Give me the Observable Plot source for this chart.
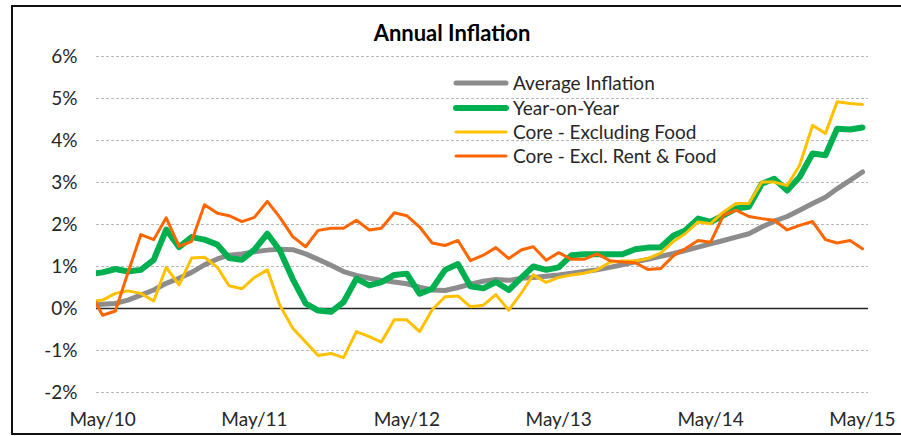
<!DOCTYPE html>
<html><head><meta charset="utf-8">
<script src="https://cdn.jsdelivr.net/npm/d3@7"></script>
<script src="https://cdn.jsdelivr.net/npm/@observablehq/plot@0.6"></script>
<style>
html,body{margin:0;padding:0;background:#fff;font-family:Lato,"Liberation Sans",sans-serif;overflow:hidden;}
#wrap{position:relative;width:901px;height:436px;overflow:hidden;background:#fff;}
#frame{position:absolute;left:11px;top:5px;width:900px;height:430px;border:2px solid #111;border-right:none;box-sizing:border-box;pointer-events:none;}
#title{position:absolute;left:0;top:20px;width:904px;height:26px;line-height:26px;text-align:center;font-weight:bold;font-size:22px;color:#000;}
#chart{position:absolute;left:0;top:46px;}
</style>
</head><body>
<div id="wrap">
  <div id="title">Annual Inflation</div>
  <div id="chart"></div>
  <div id="frame"></div>
</div>
<script>
// Monthly observations, Apr/10 (partly clipped at the axis edge) through May/15
const firstMonth = Date.UTC(2010, 3, 1);
const lastMonthExclusive = Date.UTC(2015, 5, 1);

const seriesNames = ["Average Inflation", "Year-on-Year", "Core - Excluding Food", "Core - Excl. Rent & Food"];
const seriesColors = ["#8c8c8c", "#00b050", "#ffc000", "#ff6600"];

const averageInflation = [0.08,
  0.10,0.12,0.20,0.32,0.44,0.60,0.72,0.86,1.04,1.18,1.27,1.30,
  1.35,1.39,1.41,1.40,1.30,1.17,1.03,0.88,0.79,0.72,0.67,0.63,
  0.59,0.51,0.44,0.43,0.50,0.58,0.65,0.69,0.67,0.72,0.74,0.77,
  0.80,0.84,0.88,0.92,0.98,1.04,1.11,1.17,1.24,1.31,1.38,1.46,
  1.54,1.62,1.70,1.78,1.94,2.08,2.19,2.34,2.50,2.65,2.85,3.05,
  3.25];
const yearOnYear = [0.82,
  0.86,0.94,0.88,0.92,1.16,1.88,1.46,1.70,1.64,1.52,1.20,1.16,
  1.40,1.78,1.38,0.70,0.12,-0.05,-0.08,0.15,0.71,0.55,0.63,0.80,
  0.83,0.35,0.47,0.92,1.06,0.53,0.48,0.63,0.44,0.74,1.00,0.92,
  0.98,1.27,1.29,1.29,1.29,1.29,1.41,1.45,1.46,1.74,1.86,2.14,
  2.06,2.22,2.38,2.42,2.97,3.09,2.81,3.13,3.69,3.65,4.28,4.26,
  4.31];
const coreExFood = [0.16,
  0.20,0.36,0.42,0.36,0.18,0.98,0.56,1.20,1.22,0.98,0.54,0.47,
  0.74,0.92,0.08,-0.47,-0.80,-1.12,-1.07,-1.17,-0.55,-0.67,-0.80,-0.27,
  -0.27,-0.55,-0.03,0.28,0.30,0.04,0.08,0.33,-0.04,0.38,0.80,0.62,
  0.74,0.80,0.84,0.92,1.10,1.13,1.13,1.19,1.32,1.60,1.78,2.06,
  2.02,2.30,2.50,2.50,3.01,3.01,2.93,3.41,4.36,4.17,4.92,4.88,
  4.86];
const coreExRentFood = [0.39,
  -0.16,-0.06,0.85,1.76,1.64,2.16,1.48,1.60,2.47,2.27,2.21,2.07,
  2.17,2.55,2.17,1.71,1.47,1.86,1.91,1.91,2.10,1.87,1.91,2.28,
  2.21,1.94,1.56,1.50,1.62,1.14,1.27,1.45,1.19,1.40,1.47,1.15,
  1.33,1.17,1.17,1.30,1.14,1.11,1.09,0.93,0.95,1.26,1.42,1.62,
  1.58,2.22,2.34,2.19,2.14,2.10,1.87,1.98,2.07,1.64,1.56,1.62,
  1.42];

const yTicks = [-2, -1, 0, 1, 2, 3, 4, 5, 6];
const xTickLabels = ["May/10", "May/11", "May/12", "May/13", "May/14", "May/15"];

const months = d3.utcMonth.range(new Date(firstMonth), new Date(lastMonthExclusive));
const rows = months.map((date, i) => ({
  date,
  avg: averageInflation[i],
  yoy: yearOnYear[i],
  exFood: coreExFood[i],
  exRentFood: coreExRentFood[i]
}));
const xTickDates = xTickLabels.map(s => new Date(Date.UTC(2000 + +s.split("/")[1], 4, 1)));
const labelFor = new Map(xTickDates.map((d, i) => [+d, xTickLabels[i]]));

const lineOpts = {x: "date", clip: true, strokeLinejoin: "round", strokeLinecap: "round"};

const svg = Plot.plot({
  width: 901,
  height: 390,
  marginLeft: 96,
  marginRight: 33,
  marginTop: 10,
  marginBottom: 44,
  style: {fontFamily: "Lato, 'Liberation Sans', sans-serif", fontSize: "19px", color: "#262626", background: "transparent", overflow: "visible"},
  x: {type: "utc", domain: [new Date(Date.UTC(2010, 3, 16, 12)), new Date(Date.UTC(2015, 4, 15, 10))],
      ticks: xTickDates, tickFormat: d => labelFor.get(+d), tickSize: 0, tickPadding: 20, label: null},
  y: {domain: [-2, 6], ticks: yTicks, tickFormat: d => d + "%", tickSize: 0, tickPadding: 19, label: null},
  marks: [
    Plot.ruleY(yTicks.filter(d => d !== 0), {stroke: "#b8b8b8", strokeWidth: 1, strokeDasharray: "3,2"}),
    Plot.ruleY([0], {stroke: "#262626", strokeWidth: 1.3}),
    Plot.lineY(rows, {...lineOpts, y: "avg", stroke: seriesColors[0], strokeWidth: 5}),
    Plot.lineY(rows, {...lineOpts, y: "yoy", stroke: seriesColors[1], strokeWidth: 6}),
    Plot.lineY(rows, {...lineOpts, y: "exFood", stroke: seriesColors[2], strokeWidth: 3}),
    Plot.lineY(rows, {...lineOpts, y: "exRentFood", stroke: seriesColors[3], strokeWidth: 3})
  ]
});

// Legend (inside plot area, top right)
const legendWidths = [5, 6, 3, 3];
const legendRowY = [37, 62, 86, 110];
const lg = d3.select(svg).append("g").attr("class", "legend").attr("text-anchor", "start");
seriesNames.forEach((name, i) => {
  lg.append("line")
    .attr("x1", 456).attr("x2", 506)
    .attr("y1", legendRowY[i]).attr("y2", legendRowY[i])
    .attr("stroke", seriesColors[i]).attr("stroke-width", legendWidths[i])
    .attr("stroke-linecap", "round");
  lg.append("text")
    .attr("x", 513).attr("y", legendRowY[i]).attr("dy", "0.35em")
    .attr("text-anchor", "start")
    .attr("fill", "#262626")
    .style("font-size", "19px")
    .text(name);
});

document.getElementById("chart").appendChild(svg);
</script>
</body></html>
